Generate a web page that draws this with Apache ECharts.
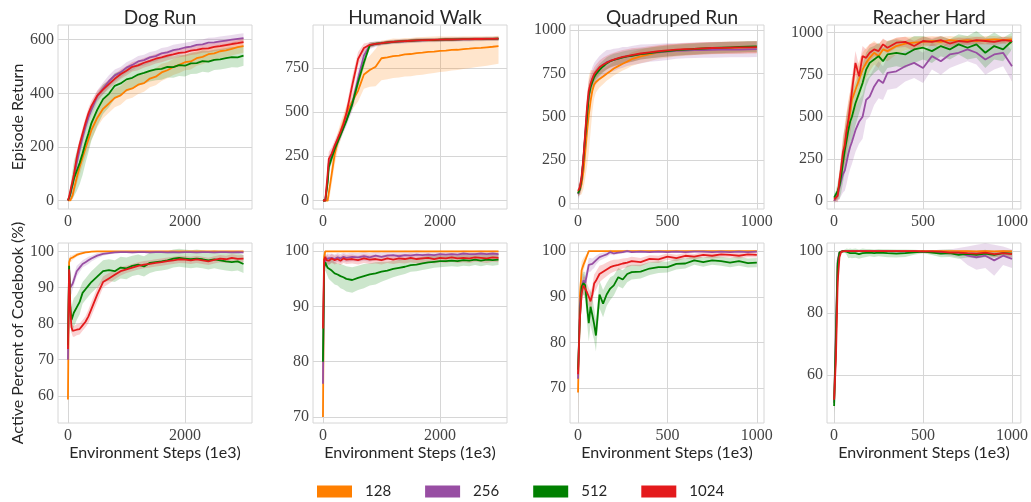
<!DOCTYPE html>
<html>
<head>
<meta charset="utf-8">
<title>Codebook size ablation</title>
<script src="https://cdn.jsdelivr.net/npm/echarts@6/dist/echarts.min.js"></script>
<style>
  html, body { margin: 0; padding: 0; background: #fff; }
  #chart { width: 1031px; height: 502px; }
</style>
</head>
<body>
<div id="chart"></div>
<script>
// x samples (Environment Steps, 1e3)
const stepsLong = [0, 20, 40, 60, 80, 100, 150, 200, 250, 300, 350, 400,
  500, 600, 700, 800, 900, 1000, 1100, 1200, 1300, 1400, 1500, 1600, 1700,
  1800, 1900, 2000, 2100, 2200, 2300, 2400, 2500, 2600, 2700, 2800, 2900, 3000];
const stepsShort = [0, 10, 20, 30, 40, 50, 60, 70, 80, 90, 100,
  120, 140, 160, 180, 200, 225, 250, 275, 300,
  350, 400, 450, 500, 550, 600, 650, 700, 750, 800, 850, 900, 950, 1000];

const seriesNames = ['128', '256', '512', '1024'];
const seriesColors = ['#ff7f00', '#984ea3', '#008000', '#e41a1c'];

// ---- Dog Run, episode return
const dogRet128 = [0, 0, 0, 5, 20, 40, 85, 125, 160, 195, 228, 262,
  308, 342, 362, 383, 392, 412, 418, 432, 438, 455, 462, 478, 486,
  498, 506, 516, 519, 531, 536, 546, 549, 557, 560, 566, 572, 576];
const dogRet128Sd = [0, 0, 3, 8, 15, 20, 25, 30, 30, 32, 35, 35,
  35, 35, 35, 35, 35, 35, 35, 35, 32, 32, 32, 32, 30,
  30, 30, 30, 30, 28, 28, 28, 28, 25, 25, 25, 25, 25];
const dogRet256 = [0, 5, 20, 40, 60, 80, 140, 190, 235, 275, 310, 338,
  388, 418, 445, 467, 478, 496, 506, 519, 524, 534, 539, 549, 553,
  561, 565, 571, 574, 581, 583, 589, 590, 594, 597, 600, 603, 606];
const dogRet256Sd = [0, 3, 8, 12, 15, 18, 20, 22, 22, 22, 22, 22,
  22, 22, 22, 22, 20, 20, 20, 20, 20, 20, 20, 20, 20,
  20, 20, 18, 18, 18, 18, 18, 18, 18, 18, 18, 18, 18];
const dogRet512 = [0, 10, 25, 45, 60, 80, 110, 140, 175, 215, 250, 288,
  338, 378, 398, 428, 437, 452, 458, 470, 476, 484, 489, 491, 499,
  498, 505, 503, 512, 513, 520, 518, 525, 527, 531, 535, 534, 541];
const dogRet512Sd = [0, 10, 25, 40, 55, 65, 75, 80, 80, 75, 70, 65,
  60, 55, 50, 48, 45, 45, 42, 42, 40, 40, 40, 40, 40,
  40, 40, 40, 40, 40, 40, 40, 38, 38, 38, 38, 38, 38];
const dogRet1024 = [0, 15, 35, 55, 75, 95, 160, 210, 250, 290, 325, 352,
  391, 414, 434, 454, 471, 484, 499, 504, 514, 521, 529, 534, 541,
  545, 551, 553, 559, 562, 567, 568, 573, 576, 580, 584, 587, 591];
const dogRet1024Sd = [0, 5, 10, 15, 18, 20, 20, 20, 20, 20, 20, 20,
  18, 18, 18, 18, 18, 18, 18, 18, 18, 18, 18, 18, 18,
  16, 16, 16, 16, 16, 16, 16, 16, 16, 16, 16, 16, 16];

// ---- Humanoid Walk, episode return
const humRet128 = [0, 0, 0, 0, 0, 0, 150, 260, 330, 390, 440, 490,
  560, 620, 712, 738, 756, 804, 809, 816, 819, 826, 828, 833, 836,
  840, 842, 846, 847, 851, 852, 856, 858, 861, 863, 866, 869, 873];
const humRet128Sd = [0, 0, 0, 0, 0, 10, 60, 60, 50, 50, 45, 45,
  45, 60, 80, 95, 110, 124, 124, 124, 124, 125, 125, 125, 125,
  124, 122, 120, 118, 116, 114, 112, 110, 108, 106, 104, 102, 100];
const humRet128Up = [0, 0, 0, 0, 0, 10, 60, 60, 50, 50, 45, 45,
  45, 60, 80, 80, 100, 100, 100, 100, 95, 92, 90, 90, 88,
  85, 85, 82, 80, 78, 75, 72, 70, 68, 65, 62, 60, 58];
const humRet256 = [0, 0, 0, 0, 120, 210, 250, 295, 335, 372, 412, 455,
  545, 690, 820, 876, 884, 888, 893, 896, 898, 900, 902, 904, 905,
  906, 907, 908, 909, 909, 910, 911, 911, 912, 912, 913, 913, 914];
const humRet256Sd = [0, 0, 0, 0, 40, 40, 35, 30, 30, 30, 30, 35,
  40, 50, 40, 20, 15, 12, 12, 12, 12, 12, 12, 12, 12,
  12, 12, 12, 12, 12, 12, 12, 12, 12, 12, 12, 12, 12];
const humRet512 = [0, 0, 0, 0, 100, 190, 240, 290, 330, 370, 410, 450,
  545, 668, 780, 878, 886, 889, 893, 897, 899, 901, 903, 905, 906,
  907, 907, 909, 910, 910, 911, 912, 912, 913, 913, 914, 914, 915];
const humRet512Sd = [0, 0, 0, 0, 30, 30, 25, 20, 20, 20, 20, 20,
  25, 30, 30, 15, 12, 10, 10, 10, 10, 10, 10, 10, 10,
  10, 10, 10, 10, 10, 10, 10, 10, 10, 10, 10, 10, 10];
const humRet1024 = [0, 0, 0, 0, 150, 235, 265, 310, 348, 388, 432, 490,
  650, 800, 862, 880, 885, 889, 894, 897, 899, 901, 903, 905, 906,
  907, 908, 909, 910, 910, 911, 912, 912, 913, 913, 914, 914, 915];
const humRet1024Sd = [0, 0, 0, 0, 40, 40, 35, 30, 30, 30, 35, 40,
  50, 40, 25, 15, 12, 10, 10, 10, 10, 10, 10, 10, 10,
  10, 10, 10, 10, 10, 10, 10, 10, 10, 10, 10, 10, 10];

// ---- Quadruped Run, episode return
const quadRet128 = [60, 75, 110, 180, 290, 410, 510, 590, 650, 685, 700,
  718, 732, 748, 762, 778, 792, 806, 818, 832,
  848, 860, 872, 878, 884, 888, 891, 893, 895, 897, 898, 899, 900, 901];
const quadRet128Sd = [20, 30, 60, 100, 150, 200, 220, 180, 120, 80, 60,
  50, 45, 40, 40, 40, 40, 40, 40, 40,
  40, 40, 38, 38, 36, 36, 35, 35, 35, 35, 35, 35, 35, 35];
const quadRet256 = [50, 80, 140, 250, 390, 520, 620, 680, 715, 740, 755,
  780, 800, 815, 822, 828, 836, 843, 848, 853,
  862, 868, 872, 876, 880, 882, 884, 885, 886, 887, 888, 888, 889, 890];
const quadRet256Sd = [30, 40, 60, 80, 90, 90, 80, 70, 70, 70, 70,
  70, 70, 70, 65, 65, 60, 60, 55, 55,
  55, 50, 50, 48, 45, 45, 45, 45, 45, 45, 45, 45, 45, 45];
const quadRet512 = [55, 80, 140, 250, 380, 500, 620, 670, 700, 728, 745,
  770, 790, 808, 820, 828, 835, 842, 848, 852,
  862, 868, 874, 879, 884, 888, 891, 894, 897, 899, 901, 903, 905, 906];
const quadRet512Sd = [20, 30, 50, 70, 80, 70, 50, 40, 35, 35, 35,
  35, 35, 35, 35, 35, 35, 35, 35, 35,
  32, 32, 32, 32, 32, 32, 32, 32, 32, 32, 32, 32, 32, 32];
const quadRet1024 = [70, 90, 150, 260, 400, 550, 650, 690, 720, 745, 760,
  785, 800, 812, 822, 830, 838, 845, 850, 856,
  865, 872, 878, 883, 887, 890, 892, 895, 897, 898, 899, 900, 901, 902];
const quadRet1024Sd = [30, 40, 60, 80, 80, 70, 55, 45, 40, 40, 40,
  40, 40, 40, 40, 40, 40, 40, 40, 40,
  35, 35, 35, 35, 35, 35, 35, 35, 35, 35, 35, 35, 35, 35];

// ---- Reacher Hard, episode return
const reachRet128 = [0, 20, 50, 100, 180, 260, 340, 400, 470, 520, 600,
  660, 720, 780, 820, 850, 880, 860, 900, 890,
  920, 935, 940, 945, 950, 945, 955, 950, 955, 950, 955, 960, 955, 960];
const reachRet128Sd = [10, 20, 40, 60, 80, 100, 120, 130, 130, 130, 130,
  120, 110, 100, 90, 80, 70, 70, 60, 60,
  50, 40, 35, 30, 30, 30, 25, 25, 25, 25, 25, 20, 20, 20];
const reachRet256 = [0, 10, 40, 80, 120, 160, 180, 230, 280, 320, 350,
  420, 470, 500, 600, 620, 680, 720, 700, 760,
  770, 800, 820, 790, 860, 830, 870, 880, 900, 880, 840, 870, 880, 800];
const reachRet256Sd = [10, 20, 40, 70, 90, 110, 120, 130, 130, 130, 130,
  130, 130, 130, 120, 120, 110, 110, 100, 100,
  100, 90, 90, 90, 80, 80, 80, 70, 70, 70, 90, 90, 80, 90];
const reachRet512 = [20, 30, 60, 90, 150, 230, 300, 360, 420, 470, 500,
  580, 640, 700, 780, 820, 840, 860, 830, 870,
  880, 870, 900, 910, 890, 920, 900, 930, 910, 930, 880, 920, 900, 950];
const reachRet512Sd = [20, 30, 50, 80, 100, 120, 130, 140, 140, 140, 140,
  130, 120, 110, 100, 90, 80, 80, 80, 80,
  80, 80, 80, 70, 70, 60, 60, 60, 70, 80, 90, 80, 70, 50];
const reachRet1024 = [10, 20, 30, 120, 200, 290, 330, 420, 480, 560, 650,
  820, 740, 860, 850, 880, 900, 890, 930, 910,
  940, 945, 920, 950, 945, 955, 935, 950, 945, 955, 950, 945, 955, 950];
const reachRet1024Sd = [10, 20, 40, 60, 80, 100, 100, 100, 100, 90, 80,
  70, 60, 60, 50, 50, 40, 40, 35, 35,
  30, 30, 30, 25, 25, 25, 25, 20, 20, 20, 20, 20, 20, 20];

// ---- Dog Run, active codebook %
const dogAct128 = [59, 97, 98, 98, 98.3, 98.5, 99, 99.3, 99.5, 99.7, 99.8, 99.9,
  100, 100, 100, 100, 100, 100, 100, 100, 100, 100, 100, 100, 100,
  100, 100, 100, 100, 100, 100, 100, 100, 100, 100, 100, 100, 100];
const dogAct128Sd = [4, 1, 1, 0.8, 0.7, 0.6, 0.5, 0.4, 0.3, 0.2, 0.2, 0.1,
  0.1, 0.1, 0.1, 0.1, 0.1, 0.1, 0.1, 0.1, 0.1, 0.1, 0.1, 0.1, 0.1,
  0.1, 0.1, 0.1, 0.1, 0.1, 0.1, 0.1, 0.1, 0.1, 0.1, 0.1, 0.1, 0.1];
const dogAct256 = [70, 95, 90, 89.5, 91, 92, 94.5, 95.5, 96.5, 97, 97.5, 98,
  98.8, 99.3, 99.5, 99.7, 99.8, 99.8, 99.7, 99.8, 99.8, 99.7, 99.8, 99.8, 99.7,
  99.8, 99.7, 99.8, 99.8, 99.7, 99.8, 99.8, 99.7, 99.8, 99.8, 99.7, 99.8, 99.7];
const dogAct256Sd = [3, 1.5, 1.5, 1.5, 1.5, 1.5, 1.5, 1.2, 1, 1, 1, 0.8,
  0.7, 0.5, 0.4, 0.3, 0.3, 0.3, 0.3, 0.3, 0.3, 0.3, 0.3, 0.3, 0.3,
  0.3, 0.3, 0.3, 0.3, 0.3, 0.3, 0.3, 0.3, 0.3, 0.3, 0.3, 0.3, 0.3];
const dogAct512 = [74, 96, 85, 81, 82, 83, 84.5, 86, 88.5, 89.5, 90.5, 91.5,
  93, 94.5, 94.8, 94.5, 95.5, 95.3, 96, 96.3, 95.8, 96.8, 97, 97.2, 97.5,
  98, 98.2, 98, 97.8, 98, 97.8, 97.5, 97.8, 97.5, 97.2, 97, 97.2, 96.5];
const dogAct512Sd = [3, 1.5, 3, 3.5, 4, 4, 3.5, 3.5, 3, 3, 3, 3,
  3, 3, 3, 3, 3, 3, 2.8, 2.8, 2.8, 2.8, 2.5, 2.5, 2.5,
  2.5, 2.5, 2.5, 2.5, 2.5, 2.5, 2.5, 2.5, 2.5, 2.5, 2.5, 2.5, 2.5];
const dogAct1024 = [73, 95, 84, 79, 78, 77.8, 78.3, 78.5, 79.5, 80.5, 82, 84,
  88, 91.5, 92.5, 93.5, 94.5, 95, 95.5, 96, 96.3, 96.5, 96.8, 97, 97.3,
  97.5, 97.8, 97.7, 97.5, 97.8, 97.5, 97.2, 97.6, 98, 97.8, 98.2, 97.9, 98];
const dogAct1024Sd = [3, 1.5, 2, 1.5, 1.5, 1.5, 1.5, 1.5, 1.5, 1.5, 1.8, 2,
  2, 1.5, 1.5, 1.2, 1.2, 1, 1, 1, 1, 1, 1, 1, 1,
  1, 1, 1, 1, 1, 1, 1, 1, 1, 1, 1, 1, 1];

// ---- Humanoid Walk, active codebook %
const humAct128 = [70, 99, 100, 100, 100, 100, 100, 100, 100, 100, 100, 100,
  100, 100, 100, 100, 100, 100, 100, 100, 100, 100, 100, 100, 100,
  100, 100, 100, 100, 100, 100, 100, 100, 100, 100, 100, 100, 100];
const humAct128Sd = [3, 0.5, 0.1, 0.1, 0.1, 0.1, 0.1, 0.1, 0.1, 0.1, 0.1, 0.1,
  0.1, 0.1, 0.1, 0.1, 0.1, 0.1, 0.1, 0.1, 0.1, 0.1, 0.1, 0.1, 0.1,
  0.1, 0.1, 0.1, 0.1, 0.1, 0.1, 0.1, 0.1, 0.1, 0.1, 0.1, 0.1, 0.1];
const humAct256 = [76, 97, 98.5, 98.4, 98.7, 98.5, 98.8, 98.6, 98.9, 98.7, 99, 98.8,
  99, 98.9, 99.1, 98.9, 99.2, 99, 99.2, 99.3, 99.1, 99.3, 99.2, 99.4, 99.3,
  99.4, 99.3, 99.5, 99.4, 99.5, 99.4, 99.6, 99.5, 99.5, 99.6, 99.5, 99.6, 99.5];
const humAct256Sd = [3, 1.5, 1, 1, 1, 1, 0.8, 0.8, 0.8, 0.8, 0.8, 0.8,
  0.8, 0.8, 0.8, 0.8, 0.8, 0.8, 0.8, 0.8, 0.8, 0.8, 0.8, 0.8, 0.8,
  0.6, 0.6, 0.6, 0.6, 0.6, 0.6, 0.6, 0.6, 0.6, 0.6, 0.6, 0.6, 0.6];
const humAct512 = [80, 97, 98, 97.5, 97, 96.8, 96.5, 96, 95.8, 95.5, 95.3, 95,
  94.8, 95.2, 95.5, 95.8, 96, 96.3, 96.5, 96.8, 97, 97.2, 97.5, 97.6, 97.8,
  98, 98.1, 98.2, 98.2, 98.3, 98.2, 98.4, 98.3, 98.5, 98.3, 98.5, 98.4, 98.5];
const humAct512Sd = [4, 1.5, 1.5, 1.5, 1.5, 1.8, 2, 2, 2, 2.2, 2.2, 2.3,
  2.3, 2.2, 2.2, 2, 2, 1.8, 1.6, 1.5, 1.4, 1.3, 1.2, 1.2, 1.2,
  1.2, 1.1, 1.1, 1, 1, 1, 1, 1, 1, 1, 1, 1, 1];
const humAct1024 = [86, 98.5, 99, 98.4, 98.6, 98.3, 98.7, 98.4, 98.6, 98.3, 98.7, 98.5,
  98.6, 98.4, 98.7, 98.5, 98.6, 98.4, 98.7, 98.5, 98.7, 98.6, 98.8, 98.6, 98.7,
  98.8, 98.6, 98.8, 98.7, 98.9, 98.7, 98.8, 98.7, 98.9, 98.8, 98.7, 98.9, 98.8];
const humAct1024Sd = [3, 1, 0.8, 0.8, 0.8, 0.8, 0.8, 0.8, 0.8, 0.8, 0.8, 0.8,
  0.8, 0.8, 0.8, 0.8, 0.8, 0.8, 0.8, 0.8, 0.8, 0.8, 0.8, 0.8, 0.8,
  0.8, 0.8, 0.8, 0.8, 0.8, 0.8, 0.8, 0.8, 0.8, 0.8, 0.8, 0.8, 0.8];

// ---- Quadruped Run, active codebook %
const quadAct128 = [69, 90, 95.8, 97, 98, 99, 100, 100, 100, 100, 100,
  100, 100, 100, 100, 100, 100, 100, 100, 100,
  100, 100, 100, 100, 100, 100, 100, 100, 100, 100, 100, 100, 100, 100];
const quadAct128Sd = [5, 3, 2, 1.5, 1, 0.5, 0.2, 0.1, 0.1, 0.1, 0.1,
  0.1, 0.1, 0.1, 0.1, 0.1, 0.1, 0.1, 0.1, 0.1,
  0.1, 0.1, 0.1, 0.1, 0.1, 0.1, 0.1, 0.1, 0.1, 0.1, 0.1, 0.1, 0.1, 0.1];
const quadAct256 = [72, 88, 92, 93.6, 93, 95, 97, 97, 97.2, 97.5, 98,
  98.7, 99, 99.3, 99.8, 99.5, 99.7, 99.8, 100, 99.8,
  99.9, 99.8, 99.9, 99.8, 99.9, 99.8, 99.9, 99.9, 99.8, 99.9, 99.8, 99.9, 99.8, 99.9];
const quadAct256Sd = [4, 3, 2, 1.5, 1.5, 1.5, 1.5, 1.5, 1.2, 1.2, 1,
  0.8, 0.7, 0.6, 0.5, 0.4, 0.3, 0.3, 0.3, 0.2,
  0.2, 0.2, 0.2, 0.2, 0.2, 0.2, 0.2, 0.2, 0.2, 0.2, 0.2, 0.2, 0.2, 0.2];
const quadAct512 = [74, 85, 92.2, 93, 92.5, 88, 84.2, 87.8, 86, 84, 81.5,
  90.5, 88.5, 90.5, 91.8, 92.5, 94.3, 93.8, 95, 95.4,
  95.5, 96.2, 96.5, 96.5, 97.2, 97.3, 98, 97.6, 98, 97.8, 97.5, 97.8, 97.4, 97.5];
const quadAct512Sd = [4, 3, 2.5, 2.5, 3, 3.5, 4, 4, 4, 3.5, 3.5,
  3, 3, 2.5, 2.5, 2.2, 2, 2, 1.8, 1.6,
  1.5, 1.4, 1.3, 1.2, 1.2, 1.1, 1, 1, 1, 1, 1, 1, 1, 1];
const quadAct1024 = [73, 85, 90.7, 92.5, 92.3, 91, 90, 89, 90.5, 92.9, 93.5,
  95, 95.5, 96, 96.5, 96.8, 97, 97.3, 97.5, 97.8,
  97.6, 98.3, 98.2, 98.8, 98.5, 99, 98.8, 99.2, 99, 99.3, 99.2, 99, 99.3, 99.2];
const quadAct1024Sd = [4, 2.5, 2, 2, 2, 2, 2, 2, 2, 2, 2,
  1.8, 1.6, 1.5, 1.4, 1.3, 1.2, 1.1, 1, 1,
  0.9, 0.8, 0.8, 0.7, 0.7, 0.6, 0.6, 0.6, 0.6, 0.6, 0.6, 0.6, 0.6, 0.6];

// ---- Reacher Hard, active codebook %
const reachAct128 = [52, 70, 95, 99.5, 100, 100, 100, 100, 100, 100, 100,
  100, 100, 100, 100, 100, 100, 100, 100, 100,
  100, 100, 100, 100, 100, 100, 100, 100, 100, 99.9, 100, 99.9, 100, 99.9];
const reachAct128Sd = [4, 5, 3, 0.5, 0.1, 0.1, 0.1, 0.1, 0.1, 0.1, 0.1,
  0.1, 0.1, 0.1, 0.1, 0.1, 0.1, 0.1, 0.1, 0.1,
  0.1, 0.1, 0.1, 0.1, 0.1, 0.1, 0.1, 0.2, 0.2, 0.3, 0.3, 0.3, 0.3, 0.3];
const reachAct256 = [51, 75, 97, 99.5, 100, 100, 100, 100, 100, 100, 100,
  100, 100, 100, 100, 99.9, 100, 99.9, 100, 99.9,
  99.9, 99.8, 99.9, 99.7, 99.8, 99.6, 99.5, 99.5, 98.5, 98, 98.5, 97, 98.5, 97.5];
const reachAct256Sd = [3, 5, 2, 0.5, 0.2, 0.2, 0.2, 0.2, 0.2, 0.2, 0.2,
  0.2, 0.2, 0.2, 0.2, 0.2, 0.2, 0.2, 0.2, 0.2,
  0.2, 0.3, 0.3, 0.4, 0.5, 0.8, 1, 1.5, 3, 4, 4, 5, 3, 3];
const reachAct512 = [50, 72, 96, 99.5, 100, 100, 100, 99.8, 99.2, 99.3, 99.2,
  99.3, 99, 99.3, 99.4, 99.5, 99.3, 99.5, 99.4, 99.3,
  99.2, 99.3, 99.6, 99.8, 99.5, 99.2, 99.3, 98.8, 99.1, 98.8, 99.2, 98.8, 99.3, 99.2];
const reachAct512Sd = [3, 5, 2, 0.5, 0.3, 0.3, 0.5, 1, 1.5, 1.5, 1.5,
  1.5, 1.5, 1.5, 1.3, 1.2, 1.2, 1.2, 1.2, 1.3,
  1.3, 1.2, 0.8, 0.5, 0.8, 1.2, 1.2, 1.3, 1.2, 1.2, 1.2, 1, 1, 1];
const reachAct1024 = [52, 65, 90, 98, 99.8, 100, 100, 100, 100, 100, 100,
  100, 100, 100, 100, 100, 100, 100, 100, 100,
  100, 100, 100, 99.9, 99.9, 99.8, 99.5, 99.5, 99.3, 99.2, 99.5, 99, 99.3, 99];
const reachAct1024Sd = [3, 5, 4, 1, 0.3, 0.2, 0.2, 0.2, 0.2, 0.2, 0.2,
  0.2, 0.2, 0.2, 0.2, 0.2, 0.2, 0.2, 0.2, 0.2,
  0.2, 0.2, 0.2, 0.3, 0.3, 0.4, 0.5, 0.6, 0.7, 0.8, 0.8, 1, 1, 1.2];

const panels = [
  { title: 'Dog Run', row: 0, col: 0, steps: stepsLong, xr: [-170, 3145], xt: [0, 2000],
    yr: [-32, 655], yt: [0, 200, 400, 600], yName: 'Episode Return',
    lines: [[dogRet128, dogRet128Sd], [dogRet256, dogRet256Sd], [dogRet512, dogRet512Sd], [dogRet1024, dogRet1024Sd]] },
  { title: 'Humanoid Walk', row: 0, col: 1, steps: stepsLong, xr: [-170, 3145], xt: [0, 2000],
    yr: [-48, 992], yt: [0, 250, 500, 750],
    lines: [[humRet128, humRet128Sd, humRet128Up], [humRet256, humRet256Sd], [humRet512, humRet512Sd], [humRet1024, humRet1024Sd]] },
  { title: 'Quadruped Run', row: 0, col: 2, steps: stepsShort, xr: [-45, 1040], xt: [0, 500, 1000],
    yr: [-35, 1030], yt: [0, 250, 500, 750, 1000],
    lines: [[quadRet128, quadRet128Sd], [quadRet256, quadRet256Sd], [quadRet512, quadRet512Sd], [quadRet1024, quadRet1024Sd]] },
  { title: 'Reacher Hard', row: 0, col: 3, steps: stepsShort, xr: [-40, 1050], xt: [0, 500, 1000],
    yr: [-48, 1045], yt: [0, 250, 500, 750, 1000],
    lines: [[reachRet128, reachRet128Sd], [reachRet256, reachRet256Sd], [reachRet512, reachRet512Sd], [reachRet1024, reachRet1024Sd]] },
  { row: 1, col: 0, steps: stepsLong, xr: [-170, 3145], xt: [0, 2000],
    yr: [52.5, 102.3], yt: [60, 70, 80, 90, 100], yName: 'Active Percent of Codebook (%)',
    lines: [[dogAct128, dogAct128Sd], [dogAct256, dogAct256Sd], [dogAct512, dogAct512Sd], [dogAct1024, dogAct1024Sd]] },
  { row: 1, col: 1, steps: stepsLong, xr: [-170, 3145], xt: [0, 2000],
    yr: [68.9, 101.5], yt: [70, 80, 90, 100],
    lines: [[humAct128, humAct128Sd], [humAct256, humAct256Sd], [humAct512, humAct512Sd], [humAct1024, humAct1024Sd]] },
  { row: 1, col: 2, steps: stepsShort, xr: [-45, 1040], xt: [0, 500, 1000],
    yr: [62.3, 101.8], yt: [70, 80, 90, 100],
    lines: [[quadAct128, quadAct128Sd], [quadAct256, quadAct256Sd], [quadAct512, quadAct512Sd], [quadAct1024, quadAct1024Sd]] },
  { row: 1, col: 3, steps: stepsShort, xr: [-40, 1050], xt: [0, 500, 1000],
    yr: [44.5, 102.6], yt: [60, 80, 100],
    lines: [[reachAct128, reachAct128Sd], [reachAct256, reachAct256Sd], [reachAct512, reachAct512Sd], [reachAct1024, reachAct1024Sd]] }
];

const colLeft = [58, 313, 570, 827];
const rowTop = [25, 243];
const rowHeight = [184, 180];
const plotWidth = 194;

const sansFont = 'Lato';
const serifFont = 'Liberation Serif';
const gridColor = '#d6d6d6';
const textDark = '#262626';
const plainNumber = function (v) { return String(v); };

const grids = [], xAxes = [], yAxes = [], titles = [], series = [];

panels.forEach(function (p, i) {
  grids.push({
    left: colLeft[p.col], top: rowTop[p.row], width: plotWidth, height: rowHeight[p.row],
    show: true, borderColor: gridColor, borderWidth: 1, backgroundColor: '#fff'
  });
  xAxes.push({
    type: 'value', gridIndex: i, min: p.xr[0], max: p.xr[1],
    name: p.row === 1 ? 'Environment Steps (1e3)' : '',
    nameLocation: 'middle', nameGap: 21,
    nameTextStyle: { fontFamily: sansFont, fontSize: 16, color: textDark },
    axisLine: { show: false },
    axisTick: { show: false, customValues: p.xt },
    axisLabel: { customValues: p.xt, formatter: plainNumber, margin: 5, fontFamily: serifFont, fontSize: 16, color: '#444' },
    splitLine: { show: true, lineStyle: { color: gridColor, width: 1 } }
  });
  yAxes.push({
    type: 'value', gridIndex: i, min: p.yr[0], max: p.yr[1],
    name: p.yName || '',
    nameLocation: 'middle', nameGap: 32, nameRotate: 90,
    nameTextStyle: { fontFamily: sansFont, fontSize: 16, color: textDark },
    axisLine: { show: false },
    axisTick: { show: false, customValues: p.yt },
    axisLabel: { customValues: p.yt, formatter: plainNumber, margin: 4, fontFamily: serifFont, fontSize: 16, color: '#444' },
    splitLine: { show: true, lineStyle: { color: gridColor, width: 1 } }
  });
  if (p.title) {
    titles.push({
      text: p.title, left: colLeft[p.col] + plotWidth / 2, top: 3, textAlign: 'center',
      textStyle: { fontFamily: sansFont, fontSize: 19, fontWeight: 'normal', color: textDark }
    });
  }

  // shaded bands first, then the mean lines on top
  p.lines.forEach(function (ln, k) {
    const mean = ln[0], sd = ln[1], up = ln[2] || ln[1];
    const xs = p.steps;
    series.push({
      type: 'custom', xAxisIndex: i, yAxisIndex: i, silent: true, z: 1,
      data: [[0, 0]],
      renderItem: function (params, api) {
        const pts = [];
        const clampY = function (v) { return Math.max(p.yr[0], Math.min(p.yr[1], v)); };
        for (let j = 0; j < xs.length; j++) pts.push(api.coord([xs[j], clampY(mean[j] + up[j])]));
        for (let j = xs.length - 1; j >= 0; j--) pts.push(api.coord([xs[j], clampY(mean[j] - sd[j])]));
        return { type: 'polygon', shape: { points: pts }, style: { fill: seriesColors[k], opacity: 0.2 } };
      }
    });
  });
  p.lines.forEach(function (ln, k) {
    series.push({
      name: seriesNames[k], type: 'line', xAxisIndex: i, yAxisIndex: i, z: 3,
      data: p.steps.map(function (x, j) { return [x, ln[0][j]]; }),
      showSymbol: false, symbol: 'none',
      lineStyle: { color: seriesColors[k], width: 1.8 },
      itemStyle: { color: seriesColors[k] }
    });
  });
});

const chart = echarts.init(document.getElementById('chart'), null, { renderer: 'canvas' });
chart.setOption({
  animation: false,
  backgroundColor: '#fff',
  title: titles,
  grid: grids,
  xAxis: xAxes,
  yAxis: yAxes,
  legend: {
    data: seriesNames, left: 312, top: 479, icon: 'rect',
    itemWidth: 35, itemHeight: 12, itemGap: 34,
    textStyle: { fontFamily: sansFont, fontSize: 15, color: textDark, padding: [0, 0, 0, 8] }
  },
  series: series
});
</script>
</body>
</html>
